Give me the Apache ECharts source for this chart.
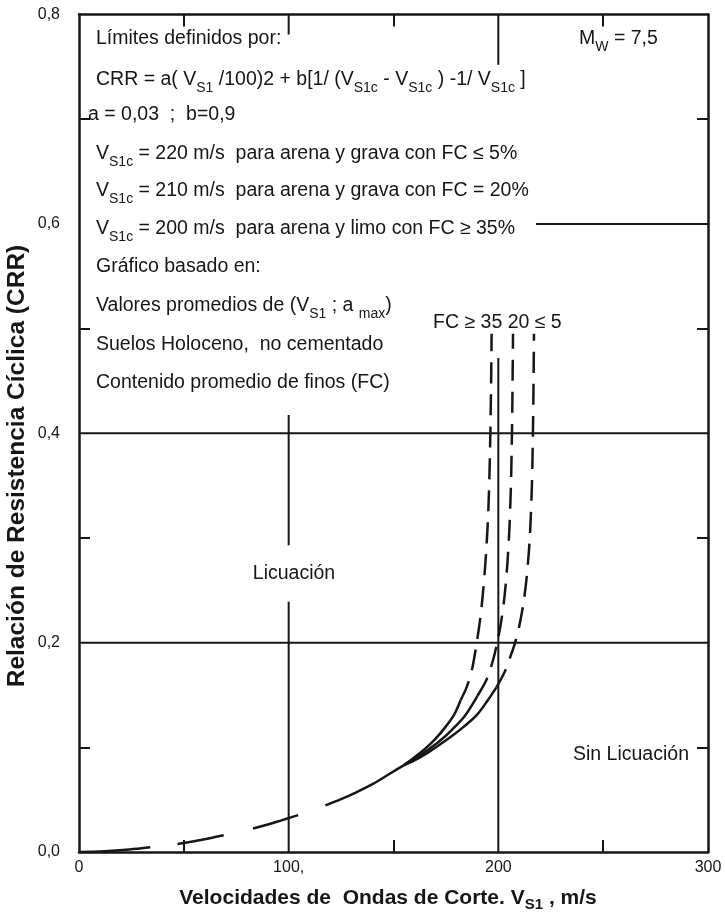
<!DOCTYPE html>
<html><head><meta charset="utf-8">
<script src="https://cdn.jsdelivr.net/npm/echarts@6/dist/echarts.min.js"></script>
<style>html,body{margin:0;padding:0;background:#fff}#c{width:725px;height:922px}</style>
</head><body><div id="c"></div>
<script>
// ---- tick labels ----
const xTickLabels = ['0', '100,', '200', '300'];
const yTickLabels = ['0,0', '0,2', '0,4', '0,6', '0,8'];

// ---- common low-velocity part (long dashes; each inner list is one dash) ----
const lowDashes = [
  [[0, 0], [12, 0.0008], [24, 0.0025], [34, 0.0046]],
  [[47, 0.0076], [58, 0.0114], [69, 0.0160]],
  [[83, 0.0225], [94, 0.0287], [104.5, 0.0352]]
];
const commonSolid = [[117.5, 0.0445], [125, 0.0505], [132, 0.0568], [140, 0.0648], [148, 0.0745], [155, 0.083]];

// ---- FC >= 35 % (V_S1c = 200) ----
const fc35Solid = [[155, 0.083], [160, 0.0905], [165, 0.0985], [170, 0.108], [175, 0.12], [179, 0.1315], [182, 0.145]];
const fc35Dash = [[182, 0.145], [185, 0.158], [187.5, 0.175], [189.7, 0.2], [191.5, 0.225], [193, 0.255], [194.3, 0.29], [195.3, 0.33], [196, 0.38], [196.5, 0.44], [196.8, 0.495]];
// ---- FC = 20 % (V_S1c = 210) ----
const fc20Solid = [[155, 0.083], [160, 0.089], [166, 0.097], [172, 0.106], [178, 0.117], [184, 0.130], [190, 0.149]];
const fc20Dash = [[190, 0.149], [194, 0.163], [197, 0.18], [199.5, 0.2], [201.5, 0.222], [203, 0.245], [204.3, 0.275], [205.3, 0.31], [206, 0.35], [206.5, 0.40], [206.8, 0.45], [207, 0.495]];
// ---- FC <= 5 % (V_S1c = 220) ----
const fc5Solid = [[155, 0.083], [160, 0.0875], [166, 0.0945], [172, 0.1025], [178, 0.111], [184, 0.1205], [190, 0.1315], [195, 0.145], [199, 0.157]];
const fc5Dash = [[199, 0.157], [203, 0.172], [206, 0.188], [208, 0.2], [210, 0.216], [212, 0.238], [213.5, 0.262], [215, 0.30], [216, 0.35], [216.5, 0.40], [216.8, 0.45], [217, 0.495]];

// ---- reference lines of the chart ----
const refSegments = [
  [[0, 0.2], [300, 0.2]],
  [[0, 0.4], [300, 0.4]],
  [[218, 0.6], [300, 0.6]],
  [[100, 0], [100, 0.239]],
  [[100, 0.293], [100, 0.4175]],
  [[200, 0], [200, 0.472]],
  [[100, 0.8], [100, 0.781]],
  [[200, 0.8], [200, 0.752]]
];

const ink = '#161616';
const F = '"Liberation Sans", Arial, Helvetica, sans-serif';

function lineS(data, type, w, smooth) {
  return {
    type: 'line', data: data, symbol: 'none', smooth: smooth ? 0.3 : false,
    silent: true, animation: false, xAxisIndex: 0, yAxisIndex: 0, z: 3,
    lineStyle: { color: ink, width: w, type: type, cap: 'butt' }
  };
}
const series = [];
lowDashes.forEach(d => series.push(lineS(d, 'solid', 2.5, true)));
series.push(lineS(commonSolid, 'solid', 2.5, true));
[fc35Solid, fc20Solid, fc5Solid].forEach(d => series.push(lineS(d, 'solid', 2.5, true)));
[fc35Dash, fc20Dash, fc5Dash].forEach(d => series.push(lineS(d, [21, 11], 2.5, true)));
refSegments.forEach(d => series.push(lineS(d, 'solid', 2, false)));

const axisLine = { show: true, onZero: false, lineStyle: { color: ink, width: 2.5 } };
const minorTick = { show: true, splitNumber: 2, length: 12, lineStyle: { color: ink, width: 2 } };

const m = { fontSize: 19.5, fontFamily: F, fill: ink, lineHeight: 24 };
const s = { fontSize: 14, fontFamily: F, fill: ink, lineHeight: 24, padding: [16, 0, 0, 0] };
const tb = { fontSize: 21, fontFamily: F, fontWeight: 'bold', fill: ink, lineHeight: 26 };
const tbs = { fontSize: 15, fontFamily: F, fontWeight: 'bold', fill: ink, lineHeight: 26, padding: [14, 0, 0, 0] };
function T(x, y, text, align, extra) {
  return Object.assign({ type: 'text', x: x, y: y, z: 10, silent: true,
    style: { text: text, rich: { m: m, s: s, tb: tb, tbs: tbs }, align: align || 'left', verticalAlign: 'middle', fill: ink, font: '19.5px ' + F } }, extra || {});
}

const graphics = [
  T(96, 39, '{m|Límites definidos por:}'),
  T(96, 80, '{m|CRR = a( V}{s|S1}{m| /100)2 + b[1/ (V}{s|S1c}{m| - V}{s|S1c}{m| ) -1/ V}{s|S1c}{m| ]}'),
  T(88, 115, '{m|a = 0,03  ;  b=0,9}'),
  T(96, 154, '{m|V}{s|S1c}{m| = 220 m/s  para arena y grava con FC ≤ 5%}'),
  T(96, 191, '{m|V}{s|S1c}{m| = 210 m/s  para arena y grava con FC = 20%}'),
  T(96, 229, '{m|V}{s|S1c}{m| = 200 m/s  para arena y limo con FC ≥ 35%}'),
  T(96, 267, '{m|Gráfico basado en:}'),
  T(96, 306, '{m|Valores promedios de (V}{s|S1}{m| ; a }{s|max}{m|)}'),
  T(96, 345, '{m|Suelos Holoceno,  no cementado}'),
  T(96, 383, '{m|Contenido promedio de finos (FC)}'),
  T(579, 39, '{m|M}{s|W}{m| = 7,5}'),
  T(433, 323, '{m|FC ≥ 35 20 ≤ 5}'),
  T(294, 574, '{m|Licuación}', 'center'),
  T(573, 755, '{m|Sin Licuación}'),
  // axis titles
  T(388, 898, '{tb|Velocidades de  Ondas de Corte. V}{tbs|S1}{tb| , m/s}', 'center'),
  T(17, 466, '{tb|Relación de Resistencia Cíclica (CRR)}', 'center', { rotation: Math.PI / 2 })
];
// bigger y title
graphics[graphics.length - 1].style.rich = { tb: Object.assign({}, tb, { fontSize: 24.5, lineHeight: 28 }) };

const chart = echarts.init(document.getElementById('c'), null, { renderer: 'canvas' });
chart.setOption({
  backgroundColor: '#ffffff',
  animation: false,
  grid: { left: 79, right: 17, top: 14.5, bottom: 70, containLabel: false, outerBoundsMode: 'none' },
  xAxis: [
    {
      type: 'value', position: 'bottom', min: 0, max: 300, interval: 100,
      axisLine: axisLine, axisTick: { show: false, inside: true }, minorTick: minorTick,
      splitLine: { show: false }, minorSplitLine: { show: false },
      axisLabel: { formatter: v => xTickLabels[Math.round(v / 100)], fontSize: 16, color: ink, margin: 8, fontFamily: F }
    },
    {
      type: 'value', position: 'top', min: 0, max: 300, interval: 100,
      axisLine: axisLine, axisTick: { show: false, inside: true }, minorTick: minorTick,
      splitLine: { show: false }, axisLabel: { show: false }
    }
  ],
  yAxis: [
    {
      type: 'value', position: 'left', min: 0, max: 0.8, interval: 0.2,
      axisLine: axisLine, axisTick: { show: false, inside: true }, minorTick: Object.assign({}, minorTick, { length: 11 }),
      splitLine: { show: false }, minorSplitLine: { show: false },
      axisLabel: { formatter: v => yTickLabels[Math.round(v / 0.2)], fontSize: 16, color: ink, margin: 19, fontFamily: F }
    },
    {
      type: 'value', position: 'right', min: 0, max: 0.8, interval: 0.2,
      axisLine: axisLine, axisTick: { show: false, inside: true }, minorTick: Object.assign({}, minorTick, { length: 11 }),
      splitLine: { show: false }, axisLabel: { show: false }
    }
  ],
  graphic: graphics,
  series: series
});
</script>
</body></html>
